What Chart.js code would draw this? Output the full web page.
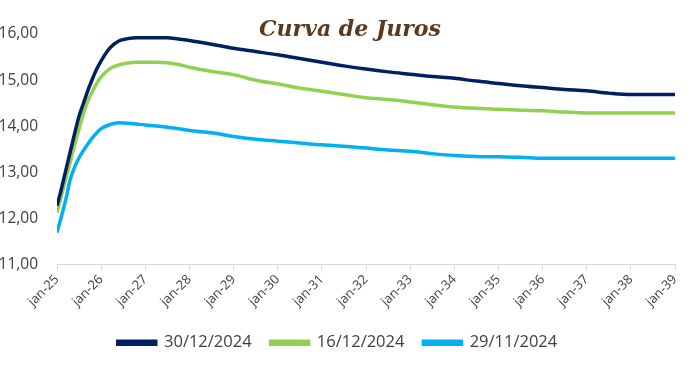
<!DOCTYPE html>
<html>
<head>
<meta charset="utf-8">
<script src="https://cdn.jsdelivr.net/npm/chart.js@4/dist/chart.umd.min.js"></script>
<style>
  html, body { margin: 0; padding: 0; background: #ffffff; }
  #wrap { position: relative; width: 692px; height: 372px; }
  #title { position: absolute; left: 0; width: 700px; top: 15px; text-align: center;
           font-family: "DejaVu Serif", serif; font-style: italic; font-weight: bold;
           font-size: 22px; color: #5B3A1E; pointer-events: none; }
</style>
</head>
<body>
<div id="wrap">
  <canvas id="c" width="692" height="372"></canvas>
  <div id="title">Curva de Juros</div>
</div>
<script>
const tickLabels = ["jan-25","jan-26","jan-27","jan-28","jan-29","jan-30","jan-31","jan-32","jan-33","jan-34","jan-35","jan-36","jan-37","jan-38","jan-39"];
const seriesNames = ["30/12/2024","16/12/2024","29/11/2024"];
// years since jan-25
const years = [0,0.1,0.2,0.3,0.4,0.5,0.6,0.7,0.8,0.9,1.0,1.2,1.4,1.6,1.8,2.0,2.25,2.5,2.75,3,3.5,4,4.5,5,5.5,6,6.5,7,7.5,8,8.5,9,9.5,10,10.5,11,11.5,12,12.5,13,13.5,14];
const curve30Dez = [12.28,12.65,13.05,13.45,13.85,14.22,14.50,14.78,15.02,15.24,15.42,15.70,15.85,15.90,15.92,15.92,15.92,15.92,15.89,15.86,15.78,15.69,15.62,15.55,15.47,15.39,15.31,15.24,15.18,15.13,15.08,15.04,14.98,14.93,14.88,14.84,14.80,14.77,14.72,14.69,14.69,14.69];
const curve16Dez = [12.13,12.50,12.87,13.23,13.60,13.95,14.28,14.55,14.75,14.93,15.07,15.25,15.33,15.37,15.39,15.39,15.39,15.38,15.34,15.28,15.19,15.12,15.00,14.92,14.83,14.76,14.69,14.62,14.58,14.53,14.47,14.42,14.39,14.37,14.35,14.34,14.31,14.29,14.29,14.29,14.29,14.29];
const curve29Nov = [11.70,12.05,12.42,12.85,13.12,13.32,13.48,13.62,13.75,13.86,13.95,14.04,14.08,14.07,14.05,14.03,14.01,13.98,13.95,13.91,13.86,13.78,13.72,13.68,13.64,13.60,13.57,13.53,13.49,13.46,13.41,13.37,13.35,13.34,13.33,13.31,13.31,13.31,13.31,13.31,13.31,13.31];
const colors = ["#002060","#92D050","#00B0F0"];

const toPts = arr => arr.map((v, i) => ({ x: years[i], y: v }));
const allSeries = [curve30Dez, curve16Dez, curve29Nov];

const datasets = allSeries.map((s, i) => ({
  label: seriesNames[i],
  data: toPts(s),
  borderColor: colors[i],
  backgroundColor: colors[i],
  borderWidth: 3.5,
  pointRadius: 0,
  tension: 0.4,
  cubicInterpolationMode: 'monotone',
  fill: false
}));

const FONT = "'Open Sans', sans-serif";
new Chart(document.getElementById('c'), {
  type: 'line',
  data: { datasets },
  options: {
    responsive: false,
    animation: false,
    layout: { padding: { top: 34, right: 17, left: 0, bottom: 11 } },
    plugins: {
      legend: {
        position: 'bottom',
        labels: {
          boxWidth: 38, boxHeight: 3, padding: 19,
          color: '#404040',
          font: { family: FONT, size: 16.5 }
        }
      },
      tooltip: { enabled: false }
    },
    scales: {
      x: {
        type: 'linear', min: 0, max: 14,
        grid: { drawOnChartArea: false, drawTicks: true, tickLength: 5, color: '#d9d9d9' },
        border: { display: true, color: '#d9d9d9', width: 1 },
        ticks: {
          stepSize: 1, autoSkip: false, maxRotation: 45, minRotation: 45,
          color: '#404040', font: { family: FONT, size: 13 }, padding: 2,
          callback: v => tickLabels[v] ?? ''
        },
        afterFit: s => { s.height += 4; }
      },
      y: {
        min: 11, max: 16,
        grid: { display: false },
        border: { display: false },
        ticks: {
          stepSize: 1, color: '#404040', font: { family: FONT, size: 15.5 }, padding: 11,
          callback: v => v.toFixed(2).replace('.', ',')
        },
        afterFit: s => { s.width = 57; }
      }
    }
  }
});
</script>
</body>
</html>
